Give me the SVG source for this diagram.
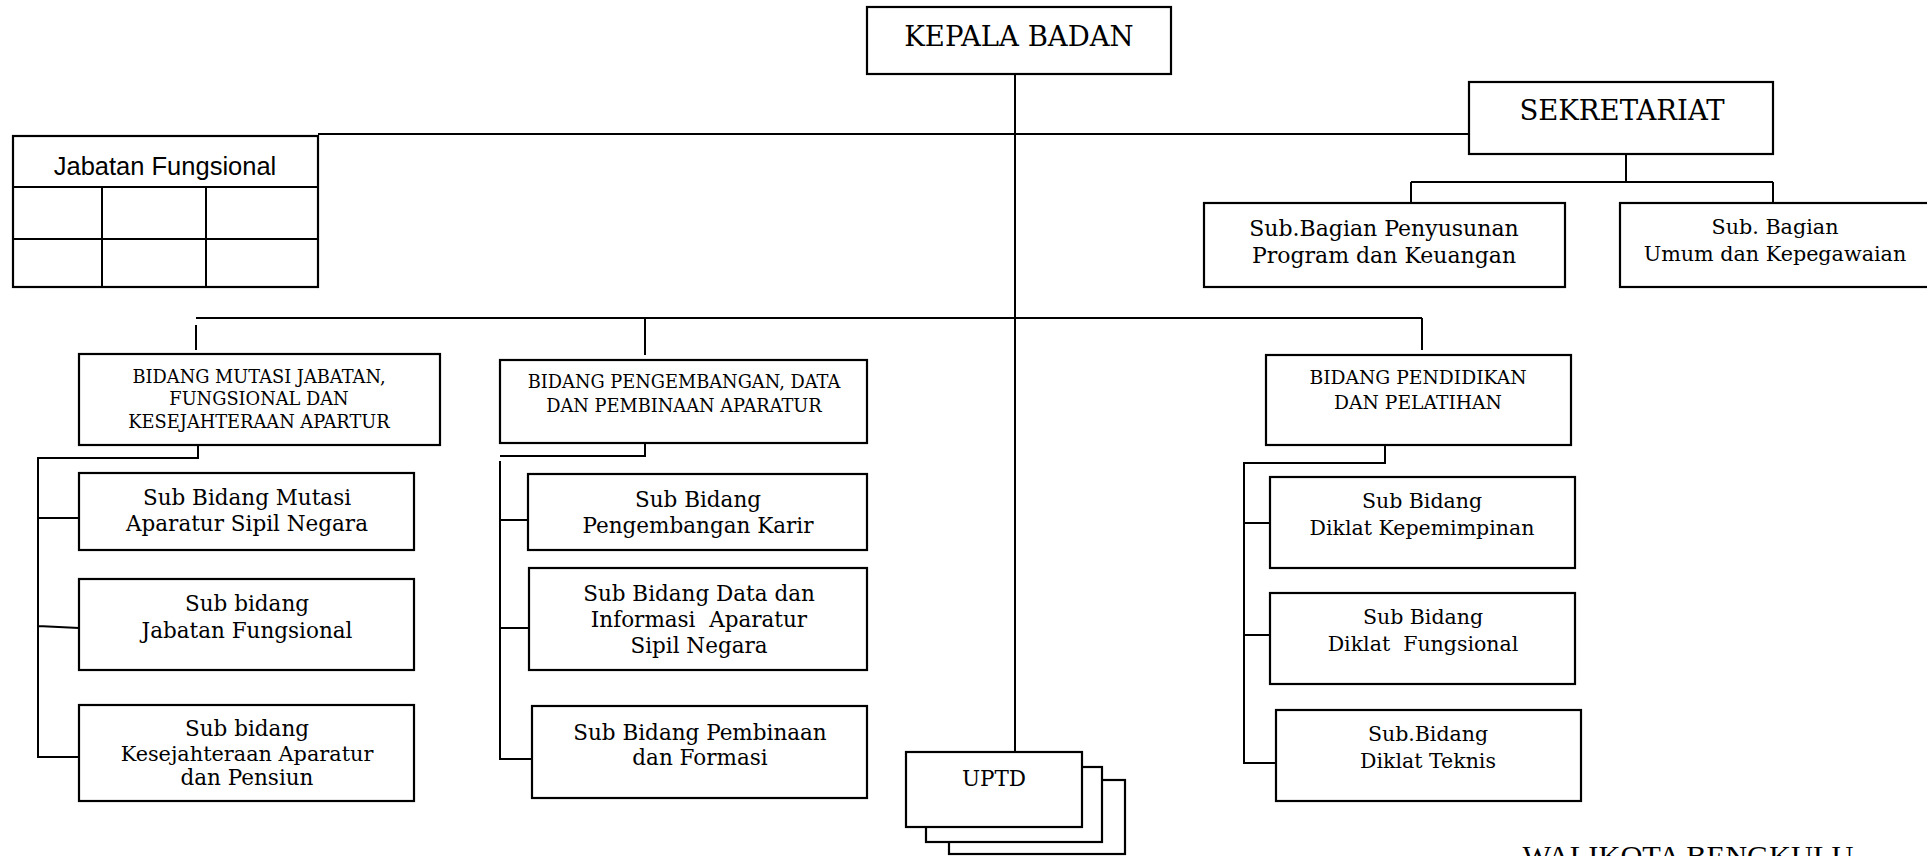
<svg xmlns="http://www.w3.org/2000/svg" width="1927" height="856" viewBox="0 0 1927 856">
<style>
  .box { fill: #fff; stroke: #000; stroke-width: 2.2; }
  .ln { fill: none; stroke: #000; stroke-width: 2; }
  text { fill: #000; text-anchor: middle; font-family: "DejaVu Serif", "Liberation Serif", serif; }
  .t1 { font-size: 27.5px; }
  .sec { font-size: 22px; }
  .sec2 { font-size: 20.7px; }
  .bid { font-size: 17.8px; }
  .bk { font-size: 21.5px; }
  .ce { font-size: 20.5px; }
  .ceh { font-size: 18.7px; }
  .sans { font-family: "Liberation Sans", Arial, sans-serif; font-size: 25.5px; }
  .pre { white-space: pre; }
</style>
<rect width="1927" height="856" fill="#fff"/>
<g id="connectors">
  <path class="ln" d="M1015,74 V752"/>
  <path class="ln" d="M318,134 H1469"/>
  <path class="ln" d="M196,318 H1422"/>
  <path class="ln" d="M196,325 V350"/>
  <path class="ln" d="M645,318 V355"/>
  <path class="ln" d="M1422,318 V350"/>
  <path class="ln" d="M1626,154 V182 M1411,182 H1773 M1411,182 V203 M1773,182 V203"/>
  <path class="ln" d="M198,445 V458 H38 V757 H79 M38,518 H79 M38,626 L79,628"/>
  <path class="ln" d="M645,443 V456 H500 M500,461 V759 H532 M500,520 H529 M500,628 H532"/>
  <path class="ln" d="M1385,445 V463 H1244 V763 H1276 M1244,523 H1270 M1244,635 H1270"/>
</g>
<g id="kepala-badan">
  <rect class="box" x="867" y="7" width="304" height="67"/>
  <text class="t1" x="1019" y="46">KEPALA BADAN</text>
</g>
<g id="sekretariat">
  <rect class="box" x="1469" y="82" width="304" height="72"/>
  <text class="t1" x="1622" y="120">SEKRETARIAT</text>
</g>
<g id="subbag-program">
  <rect class="box" x="1204" y="203" width="361" height="84"/>
  <text class="sec" x="1384" y="236">Sub.Bagian Penyusunan</text>
  <text class="sec" x="1384" y="263">Program dan Keuangan</text>
</g>
<g id="subbag-umum">
  <rect class="box" x="1620" y="203" width="330" height="84"/>
  <text class="sec2" x="1775" y="234">Sub. Bagian</text>
  <text class="sec2" x="1775" y="261">Umum dan Kepegawaian</text>
</g>
<g id="jabatan-fungsional">
  <rect class="box" x="13" y="136" width="305" height="151"/>
  <path class="ln" d="M13,187 H318 M13,239 H318 M102,187 V287 M206,187 V287"/>
  <text class="sans" x="165" y="175">Jabatan Fungsional</text>
</g>
<g id="bidang-mutasi">
  <rect class="box" x="79" y="354" width="361" height="91"/>
  <text class="bid" x="259" y="383">BIDANG MUTASI JABATAN,</text>
  <text class="bid" x="259" y="405">FUNGSIONAL DAN</text>
  <text class="bid" x="259" y="428">KESEJAHTERAAN APARTUR</text>
</g>
<g id="sb-mutasi">
  <rect class="box" x="79" y="473" width="335" height="77"/>
  <text class="bk" x="247" y="505">Sub Bidang Mutasi</text>
  <text class="bk" x="247" y="531">Aparatur Sipil Negara</text>
</g>
<g id="sb-jabatan">
  <rect class="box" x="79" y="579" width="335" height="91"/>
  <text class="bk" x="247" y="611">Sub bidang</text>
  <text class="bk" x="247" y="638">Jabatan Fungsional</text>
</g>
<g id="sb-kesejahteraan">
  <rect class="box" x="79" y="705" width="335" height="96"/>
  <text class="bk" x="247" y="736">Sub bidang</text>
  <text class="bk" x="247" y="761" style="font-size:20.8px">Kesejahteraan Aparatur</text>
  <text class="bk" x="247" y="785">dan Pensiun</text>
</g>
<g id="bidang-pengembangan">
  <rect class="box" x="500" y="360" width="367" height="83"/>
  <text class="bid" x="684" y="388">BIDANG PENGEMBANGAN, DATA</text>
  <text class="bid" x="684" y="412">DAN PEMBINAAN APARATUR</text>
</g>
<g id="sb-karir">
  <rect class="box" x="528" y="474" width="339" height="76"/>
  <text class="bk" x="698" y="507">Sub Bidang</text>
  <text class="bk" x="698" y="533">Pengembangan Karir</text>
</g>
<g id="sb-data">
  <rect class="box" x="529" y="568" width="338" height="102"/>
  <text class="bk" x="699" y="601">Sub Bidang Data dan</text>
  <text class="bk pre" x="699" y="627">Informasi  Aparatur</text>
  <text class="bk" x="699" y="653">Sipil Negara</text>
</g>
<g id="sb-pembinaan">
  <rect class="box" x="532" y="706" width="335" height="92"/>
  <text class="bk" x="700" y="740">Sub Bidang Pembinaan</text>
  <text class="bk" x="700" y="765">dan Formasi</text>
</g>
<g id="uptd">
  <rect class="box" x="949" y="780" width="176" height="74"/>
  <rect class="box" x="926" y="767" width="176" height="75"/>
  <rect class="box" x="906" y="752" width="176" height="75"/>
  <text class="bk" x="994" y="786">UPTD</text>
</g>
<g id="bidang-diklat">
  <rect class="box" x="1266" y="355" width="305" height="90"/>
  <text class="ceh" x="1418" y="384">BIDANG PENDIDIKAN</text>
  <text class="ceh" x="1418" y="409">DAN PELATIHAN</text>
</g>
<g id="sb-kepemimpinan">
  <rect class="box" x="1270" y="477" width="305" height="91"/>
  <text class="ce" x="1422" y="508">Sub Bidang</text>
  <text class="ce" x="1422" y="535">Diklat Kepemimpinan</text>
</g>
<g id="sb-fungsional">
  <rect class="box" x="1270" y="593" width="305" height="91"/>
  <text class="ce" x="1423" y="624">Sub Bidang</text>
  <text class="ce pre" x="1423" y="651">Diklat  Fungsional</text>
</g>
<g id="sb-teknis">
  <rect class="box" x="1276" y="710" width="305" height="91"/>
  <text class="ce" x="1428" y="741">Sub.Bidang</text>
  <text class="ce" x="1428" y="768">Diklat Teknis</text>
</g>
<g id="walikota">
  <text x="1688" y="866" style="font-family: 'Liberation Serif', serif; font-size: 30.4px;">WALIKOTA BENGKULU</text>
</g>
</svg>
